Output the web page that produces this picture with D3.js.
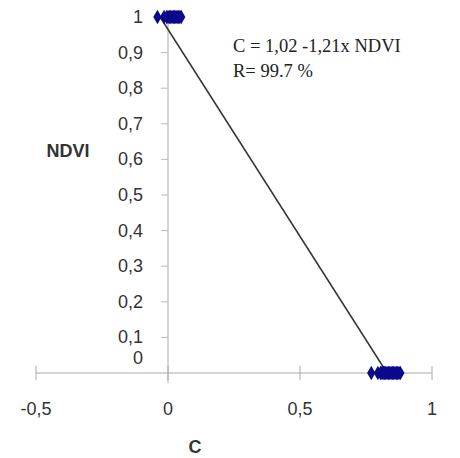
<!DOCTYPE html>
<html>
<head>
<meta charset="utf-8">
<script src="https://cdn.jsdelivr.net/npm/d3@7"></script>
<style>
  body { margin: 0; background: #fff; }
  text { font-family: "Liberation Sans", Arial, sans-serif; fill: #333; }
</style>
</head>
<body>
<div id="chart"></div>
<script>
// data
var topC = [-0.04, -0.015, -0.005, 0.0, 0.005, 0.01, 0.015, 0.02, 0.025, 0.03, 0.035, 0.04, 0.045, 0.05];
var topNdvi = 1;
var bottomC = [0.77, 0.795, 0.805, 0.81, 0.815, 0.82, 0.825, 0.83, 0.835, 0.84, 0.845, 0.85, 0.855, 0.86, 0.865, 0.87, 0.875, 0.88];
var bottomNdvi = 0;
var fitLine = [{c: -0.03, ndvi: 1}, {c: 0.83, ndvi: 0}];
var xTicks = [-0.5, 0, 0.5, 1];
var yTicks = [0, 0.1, 0.2, 0.3, 0.4, 0.5, 0.6, 0.7, 0.8, 0.9, 1];
var eqLines = ["C = 1,02 -1,21x NDVI", "R= 99.7 %"];

var points = topC.map(function (c) { return {c: c, ndvi: topNdvi}; })
    .concat(bottomC.map(function (c) { return {c: c, ndvi: bottomNdvi}; }));

var svg = d3.select("#chart").append("svg")
    .attr("width", 460)
    .attr("height", 458);

var x = d3.scaleLinear().domain([-0.5, 1]).range([36, 432]);
var y = d3.scaleLinear().domain([0, 1]).range([373, 17]);

var fmt = function (d) { return String(d).replace(".", ","); };

// x axis, drawn through y = 0
svg.append("line")
    .attr("x1", x(-0.5)).attr("x2", x(1))
    .attr("y1", y(0)).attr("y2", y(0))
    .attr("stroke", "#aaa").attr("stroke-width", 1);
svg.selectAll(".xtick").data(xTicks).enter().append("line")
    .attr("x1", function (d) { return x(d); })
    .attr("x2", function (d) { return x(d); })
    .attr("y1", y(0) - 7).attr("y2", y(0) + 7)
    .attr("stroke", "#aaa");
svg.selectAll(".xlab").data(xTicks).enter().append("text")
    .attr("x", function (d) { return x(d); })
    .attr("y", 415)
    .attr("text-anchor", "middle")
    .attr("font-size", 18)
    .text(fmt);

// y axis, drawn through x = 0
svg.append("line")
    .attr("x1", x(0)).attr("x2", x(0))
    .attr("y1", y(1)).attr("y2", y(0) + 10)
    .attr("stroke", "#aaa").attr("stroke-width", 1);
svg.selectAll(".ytick").data(yTicks.filter(function (d) { return d > 0; })).enter().append("line")
    .attr("x1", x(0) - 7).attr("x2", x(0))
    .attr("y1", function (d) { return y(d); })
    .attr("y2", function (d) { return y(d); })
    .attr("stroke", "#bbb");
svg.selectAll(".ylab").data(yTicks).enter().append("text")
    .attr("x", 143)
    .attr("y", function (d) { return d === 0 ? y(d) - 9 : y(d) + 6; })
    .attr("text-anchor", "end")
    .attr("font-size", 18)
    .text(fmt);

// axis titles
svg.append("text")
    .attr("x", 68).attr("y", 157)
    .attr("text-anchor", "middle")
    .attr("font-size", 18).attr("font-weight", "bold")
    .text("NDVI");
svg.append("text")
    .attr("x", 195).attr("y", 453)
    .attr("text-anchor", "middle")
    .attr("font-size", 18).attr("font-weight", "bold")
    .text("C");

// regression line
svg.append("line")
    .attr("x1", x(fitLine[0].c)).attr("y1", y(fitLine[0].ndvi))
    .attr("x2", x(fitLine[1].c)).attr("y2", y(fitLine[1].ndvi))
    .attr("stroke", "#333").attr("stroke-width", 1.5);

// points
svg.selectAll(".pt").data(points).enter().append("path")
    .attr("d", d3.symbol().type(d3.symbolDiamond).size(60))
    .attr("transform", function (d) { return "translate(" + x(d.c) + "," + y(d.ndvi) + ")"; })
    .attr("fill", "#0a0a8a");

// equation text
svg.selectAll(".eq").data(eqLines).enter().append("text")
    .attr("x", 233)
    .attr("y", function (d, i) { return 52 + i * 25; })
    .attr("font-size", 18.5)
    .style("font-family", "'Liberation Serif', 'Times New Roman', serif")
    .style("fill", "#222")
    .text(function (d) { return d; });
</script>
</body>
</html>
